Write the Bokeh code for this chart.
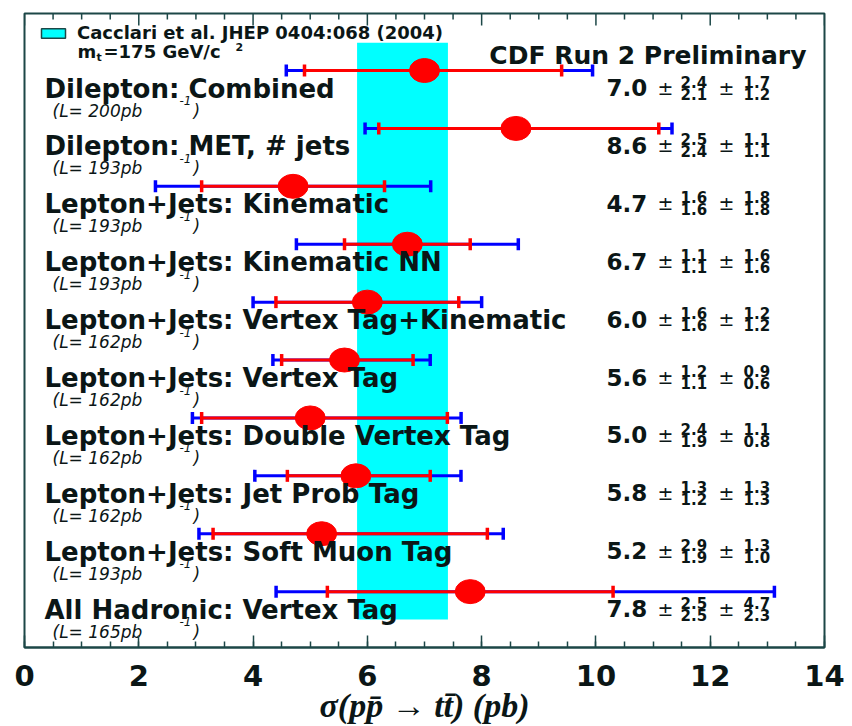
import math

from bokeh.core.properties import value
from bokeh.embed import file_html
from bokeh.models import ColumnDataSource, FixedTicker, Legend, LegendItem, Range1d
from bokeh.plotting import figure
from bokeh.resources import INLINE

# ---- measurements: sigma(ppbar -> ttbar) in pb ----
channels = [
    "Dilepton: Combined",
    "Dilepton: MET, # jets",
    "Lepton+Jets: Kinematic",
    "Lepton+Jets: Kinematic NN",
    "Lepton+Jets: Vertex Tag+Kinematic",
    "Lepton+Jets: Vertex Tag",
    "Lepton+Jets: Double Vertex Tag",
    "Lepton+Jets: Jet Prob Tag",
    "Lepton+Jets: Soft Muon Tag",
    "All Hadronic: Vertex Tag",
]
lumi_pb = [200, 193, 193, 193, 162, 162, 162, 162, 193, 165]
xsec = [7.0, 8.6, 4.7, 6.7, 6.0, 5.6, 5.0, 5.8, 5.2, 7.8]
stat_up = [2.4, 2.5, 1.6, 1.1, 1.6, 1.2, 2.4, 1.3, 2.9, 2.5]
stat_dn = [2.1, 2.4, 1.6, 1.1, 1.6, 1.1, 1.9, 1.2, 1.9, 2.5]
syst_up = [1.7, 1.1, 1.8, 1.6, 1.2, 0.9, 1.1, 1.3, 1.3, 4.7]
syst_dn = [1.2, 1.1, 1.8, 1.6, 1.2, 0.6, 0.8, 1.3, 1.0, 2.3]

# theory prediction (Cacciari et al., m_t = 175 GeV/c^2)
theory = 6.7
theory_up = 0.71
theory_dn = 0.88

x_ticks = [0, 2, 4, 6, 8, 10, 12, 14]
x_minor = [i * 0.5 for i in range(29)]

RED = "#ff0000"
BLUE = "#0000ff"
CYAN = "#00ffff"
INK = "#0b1616"
FRAME = "#1c4747"

n = len(channels)
rows = list(range(n))

tot_up = [math.hypot(a, b) for a, b in zip(stat_up, syst_up)]
tot_dn = [math.hypot(a, b) for a, b in zip(stat_dn, syst_dn)]

src = ColumnDataSource(dict(
    row=rows,
    zero=[0] * n,
    xsec=xsec,
    stat_lo=[v - d for v, d in zip(xsec, stat_dn)],
    stat_hi=[v + u for v, u in zip(xsec, stat_up)],
    tot_lo=[v - d for v, d in zip(xsec, tot_dn)],
    tot_hi=[v + u for v, u in zip(xsec, tot_up)],
    label=channels,
    lumi=[f"(L= {l}pb" for l in lumi_pb],
    val=[f"{v:.1f}" for v in xsec],
    su=[f"{v:.1f}" for v in stat_up],
    sd=[f"{v:.1f}" for v in stat_dn],
    yu=[f"{v:.1f}" for v in syst_up],
    yd=[f"{v:.1f}" for v in syst_dn],
    pm=["\u00b1"] * n,
    inv=["-1"] * n,
    close=[")"] * n,
))

# rows run top to bottom
FRAME_W, FRAME_H = 800, 634
y_top = -0.985
y_bottom = n - 0.035
px_per_row = FRAME_H / (y_bottom - y_top)

p = figure(
    frame_width=FRAME_W, frame_height=FRAME_H,
    x_range=Range1d(0, 14), y_range=Range1d(y_bottom, y_top),
    output_backend="svg", toolbar_location=None, tools="",
    y_axis_location=None,
    min_border_left=24, min_border_right=28, min_border_top=13, min_border_bottom=79,
    background_fill_color="white", border_fill_color="white",
)
p.grid.visible = False
p.outline_line_color = FRAME
p.outline_line_width = 2

ticker = FixedTicker(ticks=x_ticks, minor_ticks=x_minor)
ax = p.xaxis[0]
ax.ticker = ticker
ax.axis_line_color = FRAME
ax.axis_line_width = 2
ax.major_tick_line_color = FRAME
ax.minor_tick_line_color = FRAME
ax.major_tick_line_width = 1.5
ax.minor_tick_line_width = 1.5
ax.major_tick_in = 12
ax.major_tick_out = 0
ax.minor_tick_in = 6
ax.minor_tick_out = 0
ax.major_label_text_font = "DejaVu Sans"
ax.major_label_text_font_style = "bold"
ax.major_label_text_font_size = "29px"
ax.major_label_text_color = INK
ax.major_label_standoff = 17
ax.axis_label = "\u03c3(pp\u0304 \u2192 tt\u0304) (pb)"
ax.axis_label_text_font = "Liberation Serif"
ax.axis_label_text_font_style = "bold italic"
ax.axis_label_text_font_size = "34px"
ax.axis_label_text_color = INK
ax.axis_label_standoff = -2

# mirrored ticks along the top edge of the frame
minor_only = [t for t in x_minor if t not in x_ticks]
p.segment(x0=x_ticks, x1=x_ticks, y0=[y_top] * len(x_ticks),
          y1=[y_top + 12 / px_per_row] * len(x_ticks), line_color=FRAME, line_width=1.5)
p.segment(x0=minor_only, x1=minor_only, y0=[y_top] * len(minor_only),
          y1=[y_top + 6 / px_per_row] * len(minor_only), line_color=FRAME, line_width=1.5)

# theory band
p.quad(left=[theory - theory_dn], right=[theory + theory_up],
       bottom=[n - 1 + 0.48], top=[-0.48],
       fill_color=CYAN, line_color=None)

# legend swatch for the band (outlined, not drawn on the plot itself)
swatch = p.quad(left=[theory - theory_dn], right=[theory + theory_up],
                bottom=[n - 1 + 0.48], top=[-0.48],
                fill_color=CYAN, line_color=FRAME, line_width=1.5)
swatch.visible = False
LEG_PAD = 6
legend = Legend(
    items=[LegendItem(label="Cacclari et al. JHEP 0404:068 (2004)", renderers=[swatch])],
    location=(14 - LEG_PAD, FRAME_H - 36), margin=0, padding=LEG_PAD, spacing=0,
    glyph_width=30, glyph_height=12, label_standoff=9,
    label_text_font="DejaVu Sans", label_text_font_style="bold",
    label_text_font_size="18px", label_text_color=INK,
    border_line_alpha=0, background_fill_alpha=0,
    inactive_fill_alpha=0, click_policy="none",
)
p.add_layout(legend)

# error bars: total (blue) under statistical (red)
p.segment(x0="tot_lo", y0="row", x1="tot_hi", y1="row", line_color=BLUE, line_width=3, source=src)
p.segment(x0="stat_lo", y0="row", x1="stat_hi", y1="row", line_color=RED, line_width=3, source=src)
for col, color in (("tot_lo", BLUE), ("tot_hi", BLUE), ("stat_lo", RED), ("stat_hi", RED)):
    p.scatter(x=col, y="row", marker="dash", angle=math.pi / 2, size=12,
              line_color=color, line_width=3.5, source=src)
p.ellipse(x="xsec", y="row", width=30, height=24, width_units="screen", height_units="screen",
          fill_color=RED, line_color=RED, source=src)

# channel names and luminosities
bold = dict(text_font=value("DejaVu Sans"), text_font_style="bold", text_color=INK,
            text_baseline="alphabetic", text_align="left")
ital = dict(text_font=value("DejaVu Sans"), text_font_style="italic", text_color=INK,
            text_baseline="alphabetic", text_align="left")
p.text(x="zero", y="row", text="label", x_offset=20, y_offset=18, text_font_size="26px", source=src, **bold)
p.text(x="zero", y="row", text="lumi", x_offset=28, y_offset=40, text_font_size="17px", source=src, **ital)
p.text(x="zero", y="row", text="inv", x_offset=155, y_offset=30, text_font_size="12px", source=src, **ital)
p.text(x="zero", y="row", text="close", x_offset=169, y_offset=40, text_font_size="17px", source=src, **ital)

# value with asymmetric stat and syst errors
plain = dict(text_font=value("DejaVu Sans"), text_font_style="normal", text_color=INK,
             text_baseline="alphabetic", text_align="left")
p.text(x="zero", y="row", text="val", x_offset=582, y_offset=17, text_font_size="23px", source=src, **bold)
p.text(x="zero", y="row", text="pm", x_offset=633, y_offset=17, text_font_size="19px", source=src, **plain)
p.text(x="zero", y="row", text="su", x_offset=656, y_offset=11, text_font_size="15px", source=src, **bold)
p.text(x="zero", y="row", text="sd", x_offset=656, y_offset=23, text_font_size="15px", source=src, **bold)
p.text(x="zero", y="row", text="pm", x_offset=694, y_offset=17, text_font_size="19px", source=src, **plain)
p.text(x="zero", y="row", text="yu", x_offset=719, y_offset=11, text_font_size="15px", source=src, **bold)
p.text(x="zero", y="row", text="yd", x_offset=719, y_offset=23, text_font_size="15px", source=src, **bold)

# header texts anchored at the top-left corner of the frame
hdr = ColumnDataSource(dict(x=[0], y=[y_top]))
p.text(x="x", y="y", text=value("m"), x_offset=53, y_offset=38, text_font_size="18px", source=hdr, **bold)
p.text(x="x", y="y", text=value("t"), x_offset=72, y_offset=44, text_font_size="11px", source=hdr, **bold)
p.text(x="x", y="y", text=value("=175 GeV/c"), x_offset=79, y_offset=38, text_font_size="18px", source=hdr, **bold)
p.text(x="x", y="y", text=value("2"), x_offset=211, y_offset=33, text_font_size="11px", source=hdr, **bold)
p.text(x="x", y="y", text=value("CDF Run 2 Preliminary"), x_offset=782, y_offset=42,
       text_font_size="25px", source=hdr,
       **{**bold, "text_align": "right"})

open("out.html", "w").write(file_html(p, INLINE))
